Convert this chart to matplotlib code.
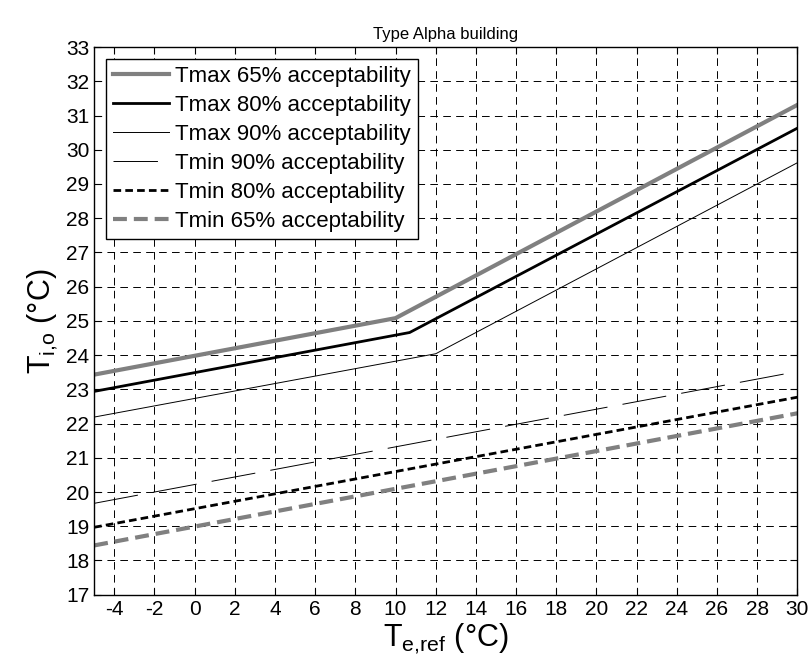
import numpy as np
import matplotlib
matplotlib.use("Agg")
import matplotlib.pyplot as plt

plt.rcParams['font.family'] = ['Liberation Sans', 'DejaVu Sans']
plt.rcParams['mathtext.default'] = 'regular'
plt.rcParams['lines.scale_dashes'] = False
plt.rcParams['axes.unicode_minus'] = False

# ---------------- data ----------------
te = [-5, 30]
tmax65_x = [-5, 10, 30]
tmax65_y = [23.43, 25.08, 31.31]
tmax80_x = [-5, 10.7, 30]
tmax80_y = [22.94, 24.66, 30.63]
tmax90_x = [-5, 12, 30]
tmax90_y = [22.19, 24.04, 29.62]
tmin90_y = [19.67, 23.52]
tmin80_y = [18.97, 22.77]
tmin65_y = [18.44, 22.30]

x_ticks = list(range(-4, 31, 2))
y_ticks = list(range(17, 34))
GRAY = "#808080"
# --------------------------------------------------------------

fig = plt.figure(figsize=(8.12, 6.72), dpi=100)
ax = fig.add_axes([0.116, 0.115, 0.866, 0.815])

ax.plot(tmax65_x, tmax65_y, color=GRAY, lw=3.0, label="Tmax 65% acceptability")
ax.plot(tmax80_x, tmax80_y, color="black", lw=2.0, label="Tmax 80% acceptability")
ax.plot(tmax90_x, tmax90_y, color="black", lw=0.7, label="Tmax 90% acceptability")
ax.plot(te, tmin90_y, color="black", lw=0.7, linestyle=(0, (32, 11)),
        label="Tmin 90% acceptability")
ax.plot(te, tmin80_y, color="black", lw=2.0, linestyle=(0, (5.5, 3)),
        label="Tmin 80% acceptability")
ax.plot(te, tmin65_y, color=GRAY, lw=3.0, linestyle=(0, (10, 5)),
        label="Tmin 65% acceptability")

ax.set_xlim(-5, 30)
ax.set_ylim(17, 33)
ax.set_xticks(x_ticks)
ax.set_yticks(y_ticks)
ax.tick_params(direction="in", top=True, right=True, labelsize=15, length=5, width=0.8)
ax.grid(True, color="black", lw=0.7, linestyle=(0, (5.5, 3.8)))
for s in ax.spines.values():
    s.set_linewidth(1.0)

ax.set_xlabel("$T_{e{,}ref}$ (°C)", fontsize=22, labelpad=2)
ax.set_ylabel("$T_{i{,}o}$ (°C)", fontsize=22, labelpad=4)
ax.set_title("Type Alpha building", fontsize=12, pad=6)

leg = ax.legend(loc="upper left", fontsize=16, fancybox=False, framealpha=1,
                edgecolor="black", handlelength=2.5, borderaxespad=0.55,
                labelspacing=0.36, handletextpad=0.3, borderpad=0.3)
leg.get_frame().set_linewidth(1.0)

fig.savefig("out.png", dpi=100)
